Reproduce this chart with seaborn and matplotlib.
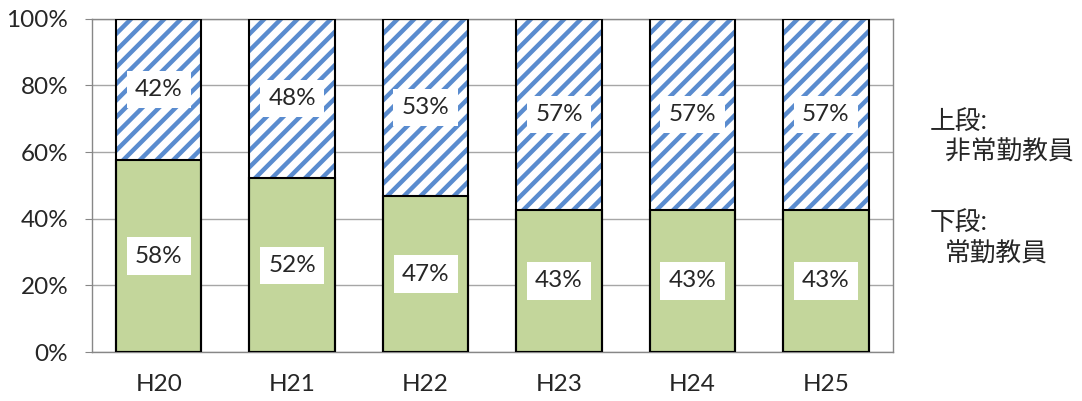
import numpy as np
import pandas as pd
import matplotlib
matplotlib.use("Agg")
import matplotlib.pyplot as plt
import seaborn as sns

# Data (percent of teaching staff)
years = ["H20", "H21", "H22", "H23", "H24", "H25"]
full_time = [57.6, 52.1, 46.8, 42.7, 42.7, 42.7]      # 常勤教員 (lower)
part_time = [42.4, 47.9, 53.2, 57.3, 57.3, 57.3]      # 非常勤教員 (upper)

sns.set_style("white")
plt.rcParams['font.family'] = ['Lato', 'Noto Sans CJK JP', 'DejaVu Sans']
plt.rcParams['hatch.linewidth'] = 3.2

df = pd.DataFrame({"year": years, "lower": full_time, "upper": part_time})
df["total"] = df["lower"] + df["upper"]

fig = plt.figure(figsize=(10.82, 4.01), dpi=100)
ax = fig.add_axes([0.085, 0.122, 0.74, 0.831])

green = "#c3d69b"
blue = "#5a8ccf"
w = 0.64

# hatched upper part (drawn full height, lower part covers it)
sns.barplot(data=df, x="year", y="total", color="white", edgecolor=blue,
            hatch="//", linewidth=0, width=w, ax=ax, zorder=2)
# lower part
sns.barplot(data=df, x="year", y="lower", color=green, edgecolor="black",
            linewidth=1.5, width=w, ax=ax, zorder=3, saturation=1)
# outline
sns.barplot(data=df, x="year", y="total", color="black", fill=False,
            linewidth=1.5, width=w, ax=ax, zorder=4)

box = dict(facecolor="white", edgecolor="none", pad=6)
for i, (lo, up) in enumerate(zip(full_time, part_time)):
    ax.text(i, lo / 2, f"{round(lo)}%", ha="center", va="center",
            fontsize=17.5, bbox=box, zorder=5)
    ax.text(i, lo + up / 2, f"{round(up)}%", ha="center", va="center",
            fontsize=17.5, bbox=box, zorder=5)

ax.set_ylim(0, 100)
ax.set_xlim(-0.5, 5.5)
ax.set_yticks(range(0, 101, 20))
ax.set_yticklabels([f"{v}%" for v in range(0, 101, 20)], fontsize=17.5)
ax.set_xticklabels(years, fontsize=17.5)
ax.set_xlabel("")
ax.set_ylabel("")
ax.yaxis.grid(True, color="#a6a6a6", linewidth=1)
ax.set_axisbelow(True)
ax.tick_params(axis="y", length=5, color="#878787", pad=12, direction="out", left=True)
ax.tick_params(axis="x", length=0, pad=16)
for s in ax.spines.values():
    s.set_color("#878787")
    s.set_linewidth(1)

jp = dict(fontsize=18.5, va="center", ha="left")
fig.text(0.859, 0.696, "上段:", **jp)
fig.text(0.873, 0.620, "非常勤教員", **jp)
fig.text(0.859, 0.446, "下段:", **jp)
fig.text(0.873, 0.367, "常勤教員", **jp)

fig.savefig("out.png", dpi=100)
